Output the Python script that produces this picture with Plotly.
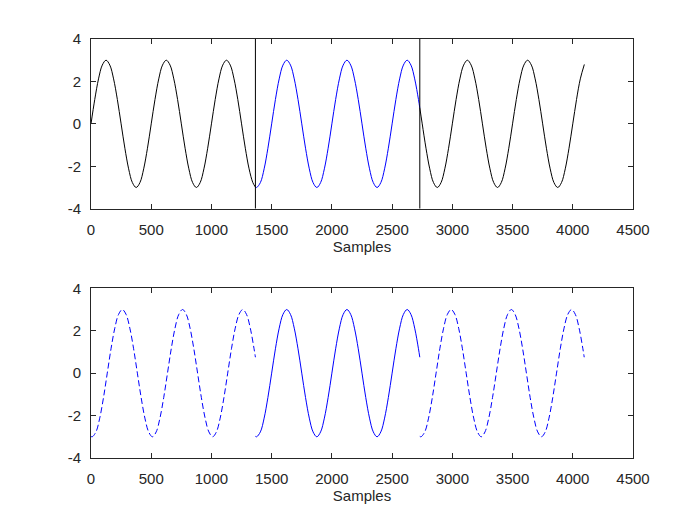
import plotly.graph_objects as go

# ---- data (sine of amplitude 3, period ~500 samples) ----
seg_a_x = [0, 31.25, 62.5, 93.75, 125, 156.25, 187.5, 218.75, 250, 281.25, 312.5, 343.75, 375, 406.25, 437.5, 468.75,
           500, 531.25, 562.5, 593.75, 625, 656.25, 687.5, 718.75, 750, 781.25, 812.5, 843.75, 875, 906.25, 937.5, 968.75,
           1000, 1031.25, 1062.5, 1093.75, 1125, 1156.25, 1187.5, 1218.75, 1250, 1281.25, 1312.5, 1343.75, 1365]
seg_a_y = [0, 1.15, 2.12, 2.77, 3, 2.77, 2.12, 1.15, 0, -1.15, -2.12, -2.77, -3, -2.77, -2.12, -1.15,
           0, 1.15, 2.12, 2.77, 3, 2.77, 2.12, 1.15, 0, -1.15, -2.12, -2.77, -3, -2.77, -2.12, -1.15,
           0, 1.15, 2.12, 2.77, 3, 2.77, 2.12, 1.15, 0, -1.15, -2.12, -2.77, -2.98]

seg_b_x = [1365, 1375, 1406.25, 1437.5, 1468.75, 1500, 1531.25, 1562.5, 1593.75, 1625, 1656.25, 1687.5, 1718.75,
           1750, 1781.25, 1812.5, 1843.75,
           1875, 1906.25, 1937.5, 1968.75, 2000, 2031.25, 2062.5, 2093.75, 2125, 2156.25, 2187.5, 2218.75,
           2250, 2281.25, 2312.5, 2343.75,
           2375, 2406.25, 2437.5, 2468.75, 2500, 2531.25, 2562.5, 2593.75, 2625, 2656.25, 2687.5, 2718.75, 2730]
seg_b_y = [-2.98, -3, -2.77, -2.12, -1.15, 0, 1.15, 2.12, 2.77, 3, 2.77, 2.12, 1.15,
           0, -1.15, -2.12, -2.77,
           -3, -2.77, -2.12, -1.15, 0, 1.15, 2.12, 2.77, 3, 2.77, 2.12, 1.15,
           0, -1.15, -2.12, -2.77,
           -3, -2.77, -2.12, -1.15, 0, 1.15, 2.12, 2.77, 3, 2.77, 2.12, 1.15, 0.75]

seg_c_x = [2730, 2750, 2781.25, 2812.5, 2843.75, 2875, 2906.25, 2937.5, 2968.75, 3000, 3031.25, 3062.5, 3093.75,
           3125, 3156.25, 3187.5, 3218.75,
           3250, 3281.25, 3312.5, 3343.75, 3375, 3406.25, 3437.5, 3468.75, 3500, 3531.25, 3562.5, 3593.75,
           3625, 3656.25, 3687.5, 3718.75,
           3750, 3781.25, 3812.5, 3843.75, 3875, 3906.25, 3937.5, 3968.75, 4000, 4031.25, 4062.5, 4096]
seg_c_y = [0.75, 0, -1.15, -2.12, -2.77, -3, -2.77, -2.12, -1.15, 0, 1.15, 2.12, 2.77,
           3, 2.77, 2.12, 1.15,
           0, -1.15, -2.12, -2.77, -3, -2.77, -2.12, -1.15, 0, 1.15, 2.12, 2.77,
           3, 2.77, 2.12, 1.15,
           0, -1.15, -2.12, -2.77, -3, -2.77, -2.12, -1.15, 0, 1.15, 2.12, 2.80]

boundaries = [1365, 2730]           # vertical markers in the top plot
copy_offsets = [0, 1365, 2730]       # where the middle segment is placed in the bottom plot
copy_dash = ["6px,3px", "solid", "6px,3px"]

x_ticks = [0, 500, 1000, 1500, 2000, 2500, 3000, 3500, 4000, 4500]
y_ticks = [-4, -2, 0, 2, 4]
y_ticklabels = ["-4", "-2", "0", "2", "4"]

AX = "#262626"
FONT = dict(family="Liberation Sans, Arial, Helvetica, sans-serif", size=15, color=AX)

fig = go.Figure()

# top plot
for xs, ys, col in [(seg_a_x, seg_a_y, "black"), (seg_b_x, seg_b_y, "blue"), (seg_c_x, seg_c_y, "black")]:
    fig.add_trace(go.Scatter(x=xs, y=ys, mode="lines", line=dict(color=col, width=1, shape="spline"),
                             xaxis="x", yaxis="y", showlegend=False, hoverinfo="skip"))
for b in boundaries:
    fig.add_trace(go.Scatter(x=[b, b], y=[-4, 4], mode="lines", line=dict(color="black", width=1),
                             xaxis="x", yaxis="y", showlegend=False, hoverinfo="skip"))

# bottom plot: middle segment repeated
start_b = seg_b_x[0]
for off, dash in zip(copy_offsets, copy_dash):
    fig.add_trace(go.Scatter(x=[v - start_b + off for v in seg_b_x], y=seg_b_y, mode="lines",
                             line=dict(color="blue", width=1, shape="spline", dash=dash),
                             xaxis="x2", yaxis="y2", showlegend=False, hoverinfo="skip"))

xa = dict(range=[0, 4500], tickvals=x_ticks, ticks="inside", ticklen=5, tickcolor=AX,
          showline=True, linecolor=AX, linewidth=1, mirror="ticks", showgrid=False,
          zeroline=False, tickfont=FONT, ticklabelstandoff=7,
          title=dict(text="Samples", font=FONT, standoff=1))
ya = dict(range=[-4, 4], tickvals=y_ticks, ticktext=y_ticklabels, ticks="inside", ticklen=5,
          tickcolor=AX, showline=True, linecolor=AX, linewidth=1, mirror="ticks",
          showgrid=False, zeroline=False, tickfont=FONT, ticklabelstandoff=6)

fig.update_layout(
    width=700, height=525, paper_bgcolor="white", plot_bgcolor="white",
    margin=dict(l=91, r=67, t=39, b=67),
    xaxis=dict(xa, domain=[0, 1], anchor="y"),
    yaxis=dict(ya, domain=[0.595, 1], anchor="x"),
    xaxis2=dict(xa, domain=[0, 1], anchor="y2"),
    yaxis2=dict(ya, domain=[0, 0.405], anchor="x2"),
    font=FONT,
)

fig.write_html("out.html")
